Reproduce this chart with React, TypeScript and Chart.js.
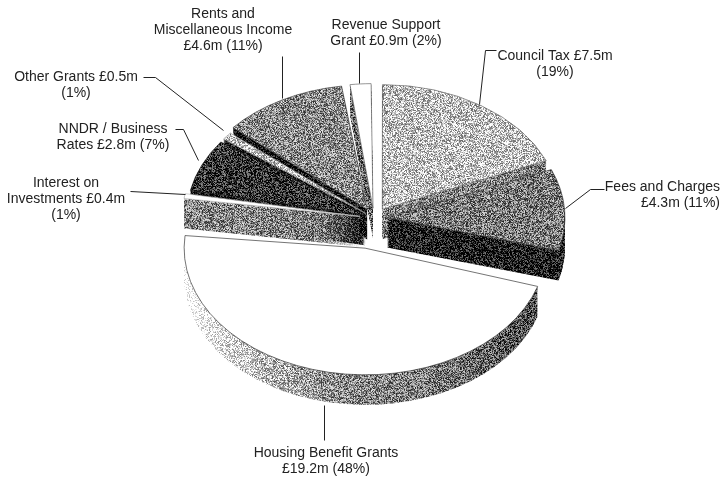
import React, { useEffect, useRef } from "react";
import { Chart, registerables } from "chart.js";

Chart.register(...registerables);

const categories = ["Council Tax", "Fees and Charges", "Housing Benefit Grants", "Interest on Investments", "NNDR / Business Rates", "Other Grants", "Rents and Miscellaneous Income", "Revenue Support Grant"];
const valuesMillions = [7.5, 4.3, 19.2, 0.4, 2.8, 0.5, 4.6, 0.9];
const explodeOffsets = [15, 13, 44, 14, 10, 10, 14, 14];
const radiusExtras = [0, 0, 3, 0, 0, 0, 0, 0];
const topShades = [0.76, 0.48, 1, 1, 0.2, 0.74, 0.54, 1];
const wallShades = [0.5, 0.1, -1, 0.52, 0.05, 0.05, 0.02, 0.42];
const edgeColors = ["#666", "#444", "#333", "#bbb", "#222", "#999", "#444", "#666"];
const drawOrder = [6, 7, 0, 5, 4, 3, 1, 2];

const W = 721, H = 479, RADIUS = 178, TILT = 0.7, DEPTH = 30, CX = 374, CY = 218;

const annotations: { lines: string[]; x: number; y: number; align?: CanvasTextAlign }[] = [
  { lines: ["Rents and", "Miscellaneous Income", "£4.6m (11%)"], x: 223, y: 14 },
  { lines: ["Revenue Support", "Grant £0.9m (2%)"], x: 386, y: 25 },
  { lines: ["Council Tax £7.5m", "(19%)"], x: 555, y: 56 },
  { lines: ["Fees and Charges", "£4.3m (11%)"], x: 720, y: 187, align: "right" },
  { lines: ["Other Grants £0.5m", "(1%)"], x: 76, y: 77 },
  { lines: ["NNDR / Business", "Rates £2.8m (7%)"], x: 113, y: 129 },
  { lines: ["Interest on", "Investments £0.4m", "(1%)"], x: 66, y: 183 },
  { lines: ["Housing Benefit Grants", "£19.2m (48%)"], x: 326, y: 453 },
];

const leaders: number[][][] = [
  [[282, 56], [282, 98]],
  [[359, 52], [359, 83]],
  [[496, 50], [485, 50], [479, 104]],
  [[604, 189], [590, 189], [565, 208]],
  [[143, 77], [155, 77], [223, 130]],
  [[175, 129], [183, 129], [198, 160]],
  [[130, 191], [185, 194]],
  [[324, 405], [324, 440]],
];

const noise = (x: number, y: number) => {
  let h = (Math.imul(x, 374761393) + Math.imul(y, 668265263)) | 0;
  h = Math.imul(h ^ (h >>> 13), 1274126177);
  h = Math.imul(h ^ (h >>> 16), 2246822519);
  return ((h ^ (h >>> 15)) >>> 0) / 4294967296;
};

function ditherPattern(ctx: CanvasRenderingContext2D, shade: (x: number) => number) {
  const c = document.createElement("canvas");
  c.width = W;
  c.height = H;
  const g = c.getContext("2d")!;
  const img = g.createImageData(W, H);
  for (let y = 0; y < H; y++) {
    for (let x = 0; x < W; x++) {
      const s = shade(x);
      const v = Math.max(0, Math.min(1, s + (noise(x, y) - 0.5) * 0.75));
      const i = (y * W + x) * 4;
      img.data[i] = img.data[i + 1] = img.data[i + 2] = v * 255;
      img.data[i + 3] = 255;
    }
  }
  g.putImageData(img, 0, 0);
  return ctx.createPattern(c, "repeat")!;
}

const housingWallShade = (x: number) => {
  const stops = [[185, 1.15], [215, 0.95], [260, 0.76], [330, 0.55], [450, 0.46], [535, 0.3]];
  for (let i = 1; i < stops.length; i++) {
    if (x <= stops[i][0]) {
      const t = (x - stops[i - 1][0]) / (stops[i][0] - stops[i - 1][0]);
      return stops[i - 1][1] + Math.max(0, t) * (stops[i][1] - stops[i - 1][1]);
    }
  }
  return 0.3;
};

export default function App() {
  const ref = useRef<HTMLCanvasElement>(null);
  useEffect(() => {
    const canvas = ref.current!;
    const base = canvas.getContext("2d")!;
    const tops = topShades.map((s) => (s >= 1 ? "#ffffff" : ditherPattern(base, () => s)));
    const walls = wallShades.map((s) => ditherPattern(base, s < 0 ? housingWallShade : () => s));

    const anchor = (ctx: CanvasRenderingContext2D, pat: any, arc: any, off: number) => {
      if (!pat || typeof pat === "string") return;
      const a = (arc.startAngle + arc.endAngle) / 2;
      const m = ctx.getTransform().translate(Math.cos(a) * off, Math.sin(a) * off);
      pat.setTransform(m.inverse());
    };

    const chart = new Chart(canvas, {
      type: "pie",
      data: {
        labels: categories,
        datasets: [{
          data: valuesMillions,
          backgroundColor: tops as any,
          borderColor: edgeColors,
          borderWidth: 0.8,
          offset: explodeOffsets.map((o) => o * 4),
        }],
      },
      options: {
        animation: false,
        responsive: false,
        radius: RADIUS,
        events: [],
        plugins: { legend: { display: false }, tooltip: { enabled: false }, title: { display: false } },
      } as any,
      plugins: [{
        id: "tilted3d",
        afterDatasetsUpdate(c: Chart) {
          c.getDatasetMeta(0).data.forEach((arc: any, i: number) => {
            const circ = arc.circumference;
            const fix = 1 - Math.sin(Math.min(Math.PI, circ || 0));
            arc.outerRadius = RADIUS + radiusExtras[i] - explodeOffsets[i] * fix;
          });
        },
        beforeDatasetsDraw(c: Chart) {
          const ctx = c.ctx;
          const meta = c.getDatasetMeta(0).data as any[];
          const place = (dy: number) => {
            ctx.translate(CX, CY + dy);
            ctx.scale(1, TILT);
            ctx.translate(-arcCenter(meta).x, -arcCenter(meta).y);
          };
          drawOrder.forEach((i) => {
            const arc = meta[i];
            const original = arc.options;
            const off = explodeOffsets[i];
            arc.options = { ...original, backgroundColor: walls[i], borderWidth: 0 };
            for (let d = DEPTH; d >= 1; d--) {
              ctx.save();
              place(d);
              anchor(ctx, walls[i], arc, off);
              arc.draw(ctx);
              ctx.restore();
            }
            arc.options = original;
            ctx.save();
            place(0);
            anchor(ctx, tops[i], arc, off);
            arc.draw(ctx);
            ctx.restore();
          });
          return false;
        },
        afterDraw(c: Chart) {
          const ctx = c.ctx;
          ctx.save();
          ctx.strokeStyle = "#222";
          ctx.lineWidth = 1;
          leaders.forEach((pts) => {
            ctx.beginPath();
            pts.forEach(([x, y], k) => (k ? ctx.lineTo(x + 0.5, y + 0.5) : ctx.moveTo(x + 0.5, y + 0.5)));
            ctx.stroke();
          });
          ctx.fillStyle = "#222";
          ctx.font = '14px "Liberation Sans"';
          ctx.textBaseline = "middle";
          annotations.forEach((a) => {
            ctx.textAlign = a.align ?? "center";
            a.lines.forEach((t, k) => ctx.fillText(t, a.x, a.y + k * 16));
          });
          ctx.restore();
        },
      } as any],
    });
    return () => chart.destroy();
  }, []);
  return <canvas ref={ref} width={W} height={H} style={{ position: "fixed", left: 0, top: 0, width: W, height: H, background: "#fff" }} />;
}

function arcCenter(meta: any[]) {
  return { x: meta[0].x, y: meta[0].y };
}
